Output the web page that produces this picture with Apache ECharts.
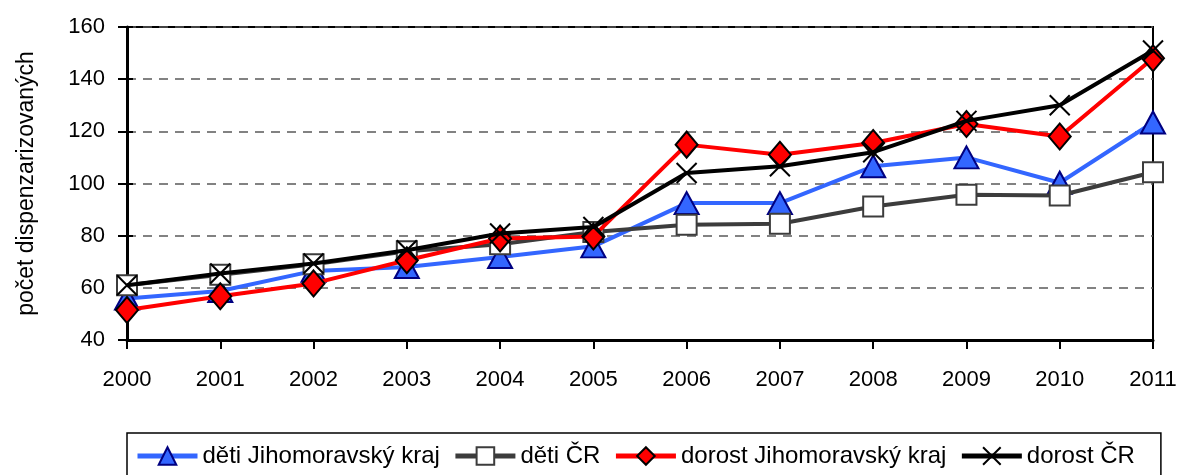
<!DOCTYPE html>
<html>
<head>
<meta charset="utf-8">
<script src="https://cdn.jsdelivr.net/npm/echarts@6/dist/echarts.min.js"></script>
<style>
  html, body { margin: 0; padding: 0; background: #fff; }
  #chart { width: 1181px; height: 475px; }
</style>
</head>
<body>
<div id="chart"></div>
<script>
const years = ['2000', '2001', '2002', '2003', '2004', '2005', '2006', '2007', '2008', '2009', '2010', '2011']
const detiJmk = [55.9, 58.8, 66.5, 68, 71.8, 75.9, 92.5, 92.5, 106.6, 110, 100.3, 123.4]
const detiCr = [61, 65, 69, 74, 76.7, 81.4, 84.2, 84.6, 91.2, 95.7, 95.4, 104.3]
const dorostJmk = [51.5, 56.8, 61.7, 70.6, 78.9, 79.7, 114.9, 111, 115.5, 122.8, 118, 148]
const dorostCr = [61, 65.5, 69.3, 74.4, 80.8, 83.3, 104, 106.6, 112, 124, 130, 151]

const font = '"Liberation Sans", Arial, sans-serif'

const chart = echarts.init(document.getElementById('chart'))

chart.setOption({
  animation: false,
  backgroundColor: '#fff',
  grid: {
    left: 127,
    right: 28,
    top: 27,
    bottom: 135,
    outerBoundsMode: 'none',
    show: true,
    borderColor: '#000',
    borderWidth: 2
  },
  legend: {
    left: 127,
    top: 433,
    padding: [11, 26, 11, 8],
    borderColor: '#000',
    borderWidth: 1.5,
    itemWidth: 60,
    itemHeight: 22,
    itemGap: 13,
    lineStyle: { width: 5 },
    textStyle: { fontFamily: font, fontSize: 24, color: '#000' },
    data: ['děti Jihomoravský kraj', 'děti ČR', 'dorost Jihomoravský kraj', 'dorost ČR']
  },
  xAxis: {
    type: 'category',
    data: years,
    boundaryGap: false,
    axisLine: { lineStyle: { color: '#000', width: 3 } },
    axisTick: { show: true, length: 9, lineStyle: { color: '#000', width: 2 } },
    axisLabel: { margin: 29, fontFamily: font, fontSize: 22, color: '#000' }
  },
  yAxis: [
    {
      type: 'value',
      min: 40,
      max: 160,
      interval: 20,
      name: 'počet dispenzarizovaných',
      nameLocation: 'middle',
      nameRotate: 90,
      nameGap: 89,
      nameTextStyle: { fontFamily: font, fontSize: 23, color: '#000' },
      axisLine: { show: true, lineStyle: { color: '#000', width: 3 } },
      axisTick: { show: true, length: 9, lineStyle: { color: '#000', width: 2 } },
      axisLabel: { margin: 22, fontFamily: font, fontSize: 22, color: '#000' },
      splitLine: { lineStyle: { color: '#5a5a5a', width: 1.5, type: [9, 7] } }
    },
    {
      // inner half of the crossing ticks
      type: 'value',
      min: 40,
      max: 160,
      interval: 20,
      position: 'left',
      axisLine: { show: false },
      axisTick: { show: true, inside: true, length: 6, lineStyle: { color: '#000', width: 2 } },
      axisLabel: { show: false },
      splitLine: { show: false }
    }
  ],
  series: [
    {
      name: 'děti Jihomoravský kraj',
      type: 'line',
      data: detiJmk,
      symbol: 'triangle',
      symbolSize: [24, 22],
      lineStyle: { color: '#3366ff', width: 4 },
      itemStyle: { color: '#3366ff', borderColor: '#000080', borderWidth: 2 },
      z: 2
    },
    {
      name: 'děti ČR',
      type: 'line',
      data: detiCr,
      symbol: 'rect',
      symbolSize: 20,
      lineStyle: { color: '#3c3c3c', width: 4 },
      itemStyle: { color: '#fff', borderColor: '#3c3c3c', borderWidth: 2 },
      z: 3
    },
    {
      name: 'dorost Jihomoravský kraj',
      type: 'line',
      data: dorostJmk,
      symbol: 'diamond',
      symbolSize: [22, 26],
      lineStyle: { color: '#ff0000', width: 4 },
      itemStyle: { color: '#ff0000', borderColor: '#000', borderWidth: 2 },
      z: 4
    },
    {
      name: 'dorost ČR',
      type: 'line',
      data: dorostCr,
      symbol: 'path://M0,0L10,10M10,0L0,10',
      symbolSize: 20,
      lineStyle: { color: '#000', width: 4 },
      itemStyle: { color: '#000', borderColor: '#000', borderWidth: 2 },
      z: 5
    }
  ]
})
</script>
</body>
</html>
